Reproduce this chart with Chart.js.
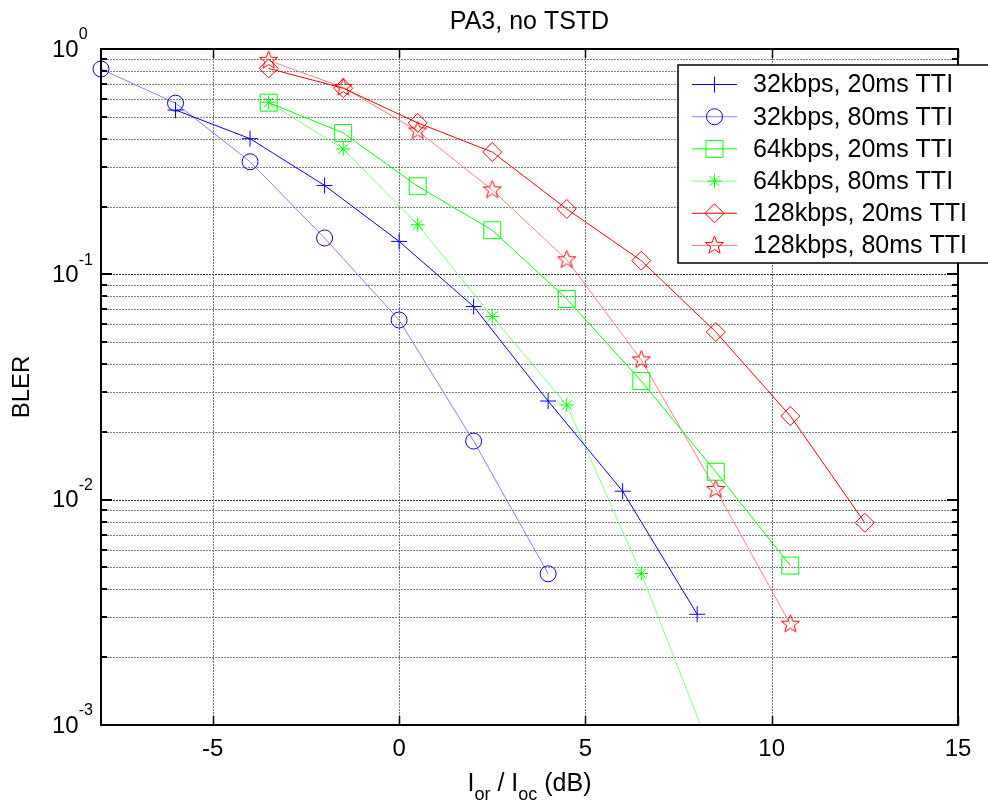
<!DOCTYPE html>
<html>
<head>
<meta charset="utf-8">
<script src="https://cdn.jsdelivr.net/npm/chart.js@4.4.1/dist/chart.umd.min.js"></script>
<style>
html, body { margin:0; padding:0; background:#fff; }
canvas { display:block; }
</style>
</head>
<body>
<canvas id="grafik" width="988" height="808"></canvas>
<script>
// data
const judul = 'PA3, no TSTD'
const xTicks = [-5, 0, 5, 10, 15]
const yDecades = [-3, -2, -1, 0]
const yTickExp = ['-3', '-2', '-1', '0']

const x32_20 = [-6, -4, -2, 0, 2, 4, 6, 8]
const bler32_20 = [0.536, 0.40, 0.248, 0.14, 0.072, 0.0274, 0.0109, 0.0031]
const x32_80 = [-8, -6, -4, -2, 0, 2, 4]
const bler32_80 = [0.815, 0.575, 0.316, 0.145, 0.0627, 0.0182, 0.00469]
const x64 = [-3.5, -1.5, 0.5, 2.5, 4.5, 6.5, 8.5, 10.5]
const bler64_20 = [0.578, 0.424, 0.246, 0.157, 0.0777, 0.0336, 0.0133, 0.0051]
const bler64_80 = [0.58, 0.36, 0.166, 0.065, 0.0263, 0.0047, 0.00067]
const x128 = [-3.5, -1.5, 0.5, 2.5, 4.5, 6.5, 8.5, 10.5, 12.5]
const bler128_20 = [0.82, 0.67, 0.47, 0.349, 0.195, 0.115, 0.0555, 0.0235, 0.0079]
const bler128_80 = [0.89, 0.675, 0.433, 0.237, 0.116, 0.0417, 0.0111, 0.0028]

const labels = ['32kbps, 20ms TTI', '32kbps, 80ms TTI', '64kbps, 20ms TTI', '64kbps, 80ms TTI', '128kbps, 20ms TTI', '128kbps, 80ms TTI']

const FONT = '"Liberation Sans", Arial, sans-serif'

// pentagram marker, no built-in one in chart.js
const bintang = (() => {
	const R = 9.5, r = R * 0.42, s = 2 * R + 4
	const cv = document.createElement('canvas')
	cv.width = cv.height = s
	const g = cv.getContext('2d')
	g.strokeStyle = '#ff0000'
	g.lineWidth = 1
	g.beginPath()
	for (let i = 0; i < 10; i++) {
		const a = -Math.PI / 2 + i * Math.PI / 5, rr = i % 2 ? r : R
		g.lineTo(s / 2 + rr * Math.cos(a), s / 2 + rr * Math.sin(a))
	}
	g.closePath()
	g.stroke()
	return cv
})()

const seri = (xs, ys, i, garis, titik, gaya, rad) => ({
	label: labels[i],
	data: xs.map((x, k) => ({ x, y: ys[k] })).filter(p => p.y !== undefined),
	borderColor: garis,
	pointBorderColor: titik,
	pointBackgroundColor: 'rgba(0,0,0,0)',
	pointStyle: gaya,
	pointRadius: rad,
	borderWidth: 1,
	pointBorderWidth: 1,
	tension: 0,
	clip: { left: false, top: false, right: false, bottom: 0 },
})

const datasets = [
	seri(x32_20, bler32_20, 0, '#0000ff', '#0000ff', 'cross', 8),
	seri(x32_80, bler32_80, 1, '#8080ff', '#0000ff', 'circle', 8),
	seri(x64, bler64_20, 2, '#00ff00', '#00ff00', 'rect', 12),
	seri(x64, bler64_80, 3, '#80ff80', '#00ff00', 'star', 7),
	seri(x128, bler128_20, 4, '#ff0000', '#ff0000', 'rectRot', 9.5),
	seri(x128, bler128_80, 5, '#ff8080', '#ff0000', bintang, 9),
]

const garis = (ctx, x1, y1, x2, y2) => {
	ctx.beginPath()
	ctx.moveTo(x1, y1)
	ctx.lineTo(x2, y2)
	ctx.stroke()
}

// every 1..9 x 10^d line of the log axis
const logLines = () => {
	const out = []
	yDecades.forEach(d => {
		for (let m = 1; m < 10; m++) {
			const v = m * Math.pow(10, d)
			if (v > 1.0001) break
			out.push({ v, major: m === 1 })
		}
	})
	return out
}

const bingkai = {
	id: 'bingkai',
	beforeDatasetsDraw(c) {
		const { ctx, chartArea: ca } = c
		const sx = c.scales.x, sy = c.scales.y
		ctx.save()
		ctx.lineWidth = 1
		ctx.setLineDash([2, 1])
		logLines().forEach(l => {
			const y = Math.round(sy.getPixelForValue(l.v)) + 0.5
			ctx.strokeStyle = l.major ? '#333' : '#808080'
			garis(ctx, ca.left, y, ca.right, y)
		})
		ctx.strokeStyle = '#707070'
		xTicks.forEach(v => {
			const x = Math.round(sx.getPixelForValue(v)) + 0.5
			garis(ctx, x, ca.top, x, ca.bottom)
		})
		ctx.restore()
	},
	afterDraw(c) {
		const { ctx, chartArea: ca } = c
		const sx = c.scales.x, sy = c.scales.y
		ctx.save()
		ctx.strokeStyle = '#000'
		ctx.fillStyle = '#000'

		// inner ticks
		ctx.lineWidth = 2
		logLines().forEach(l => {
			const y = Math.round(sy.getPixelForValue(l.v))
			const len = l.major ? 11 : 6
			garis(ctx, ca.left, y, ca.left + len, y)
			garis(ctx, ca.right - len, y, ca.right, y)
		})
		ctx.lineWidth = 1.5
		xTicks.forEach(v => {
			const x = Math.round(sx.getPixelForValue(v)) + 0.5
			garis(ctx, x, ca.bottom, x, ca.bottom - 9)
			garis(ctx, x, ca.top, x, ca.top + 9)
		})

		// box
		ctx.lineWidth = 2
		ctx.strokeRect(ca.left, ca.top, ca.right - ca.left, ca.bottom - ca.top)

		// tick labels
		ctx.font = '24px ' + FONT
		ctx.textAlign = 'center'
		ctx.textBaseline = 'middle'
		xTicks.forEach(v => ctx.fillText(String(v), sx.getPixelForValue(v), 749))

		ctx.textAlign = 'left'
		yDecades.forEach((d, i) => {
			const y = sy.getPixelForValue(Math.pow(10, d))
			ctx.font = '24px ' + FONT
			ctx.fillText('10', 52, y + 1)
			const w = ctx.measureText('10').width
			ctx.font = '16px ' + FONT
			ctx.fillText(yTickExp[i], 52 + w, y - 14)
		})

		// title
		ctx.font = '25px ' + FONT
		ctx.textAlign = 'center'
		ctx.textBaseline = 'alphabetic'
		ctx.fillText(judul, (ca.left + ca.right) / 2, 29)

		// y label
		ctx.save()
		ctx.translate(22, (ca.top + ca.bottom) / 2)
		ctx.rotate(-Math.PI / 2)
		ctx.font = '24px ' + FONT
		ctx.textBaseline = 'middle'
		ctx.fillText('BLER', 0, 0)
		ctx.restore()

		// x label with subscripts
		const bagian = [['I', 0], ['or', 1], [' / I', 0], ['oc', 1], [' (dB)', 0]]
		const fnt = s => (s ? '18px ' : '25px ') + FONT
		let total = 0
		bagian.forEach(([t, s]) => { ctx.font = fnt(s); total += ctx.measureText(t).width })
		let px = (ca.left + ca.right) / 2 - total / 2
		ctx.textAlign = 'left'
		bagian.forEach(([t, s]) => {
			ctx.font = fnt(s)
			ctx.fillText(t, px, s ? 800 : 791)
			px += ctx.measureText(t).width
		})

		// legend
		const lx = 678, ly = 65, lw = 330, lh = 198
		ctx.fillStyle = '#fff'
		ctx.fillRect(lx, ly, lw, lh)
		ctx.lineWidth = 1.5
		ctx.strokeStyle = '#000'
		ctx.strokeRect(lx, ly, lw, lh)
		c.data.datasets.forEach((ds, i) => {
			const y = 84.5 + i * 32.2
			ctx.strokeStyle = ds.borderColor
			ctx.lineWidth = 1
			garis(ctx, 692, y, 737, y)
			ctx.strokeStyle = ds.pointBorderColor
			ctx.fillStyle = 'rgba(0,0,0,0)'
			Chart.helpers.drawPoint(ctx, { pointStyle: ds.pointStyle, radius: ds.pointRadius, rotation: 0, borderWidth: 1 }, 714.5, y)
			ctx.fillStyle = '#000'
			ctx.font = '25px ' + FONT
			ctx.textAlign = 'left'
			ctx.textBaseline = 'middle'
			ctx.fillText(ds.label, 753, y + 1)
		})
		ctx.restore()
	}
}

new Chart(document.getElementById('grafik'), {
	type: 'line',
	data: { datasets },
	options: {
		responsive: false,
		animation: false,
		devicePixelRatio: 1,
		layout: { padding: { left: 101, top: 49, right: 30, bottom: 83 } },
		plugins: { legend: { display: false }, tooltip: { enabled: false } },
		scales: {
			x: {
				type: 'linear', min: -8, max: 15,
				ticks: { display: false },
				grid: { display: false },
				border: { display: false },
				afterFit: s => { s.height = 0 },
			},
			y: {
				type: 'logarithmic', min: 0.001, max: 1,
				ticks: { display: false },
				grid: { display: false },
				border: { display: false },
				afterFit: s => { s.width = 0 },
			},
		},
	},
	plugins: [bingkai],
})
</script>
</body>
</html>
